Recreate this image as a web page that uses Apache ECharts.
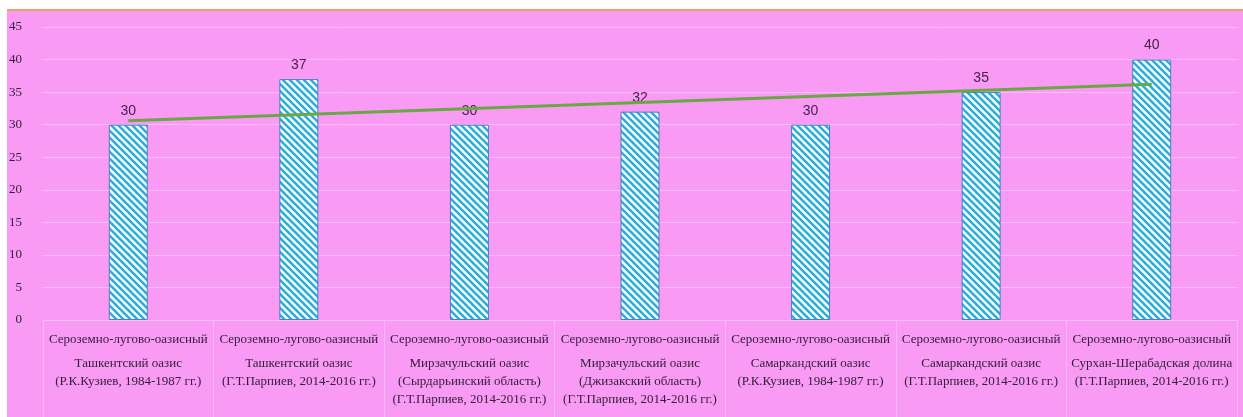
<!DOCTYPE html>
<html>
<head>
<meta charset="utf-8">
<script src="https://cdn.jsdelivr.net/npm/echarts@6/dist/echarts.min.js"></script>
<style>
  html, body { margin: 0; padding: 0; background: #ffffff; }
  #chart { width: 1243px; height: 417px; }
</style>
</head>
<body>
<div id="chart"></div>
<script>
// Soil type shared by all columns (first label row)
const soilType = 'Сероземно-лугово-оазисный';

// Region / source lines under each column
const regions = [
  ['Ташкентский оазис', '(Р.К.Кузиев, 1984-1987 гг.)'],
  ['Ташкентский оазис', '(Г.Т.Парпиев, 2014-2016 гг.)'],
  ['Мирзачульский оазис', '(Сырдарьинский область)', '(Г.Т.Парпиев, 2014-2016 гг.)'],
  ['Мирзачульский оазис', '(Джизакский область)', '(Г.Т.Парпиев, 2014-2016 гг.)'],
  ['Самаркандский оазис', '(Р.К.Кузиев, 1984-1987 гг.)'],
  ['Самаркандский оазис', '(Г.Т.Парпиев, 2014-2016 гг.)'],
  ['Сурхан-Шерабадская долина', '(Г.Т.Парпиев, 2014-2016 гг.)']
];

// Column values
const values = [30, 37, 30, 32, 30, 35, 40];

// Linear trend line: start and end values, empty in between
const trend = [30.6, '-', '-', '-', '-', '-', 36.2];

// Y axis ticks
const yMin = 0, yMax = 45, yStep = 5;

const categories = regions.map((r, i) => 'c' + i);

// Diagonal hatch pattern (cyan / white)
function hatch() {
  const p = 7;
  const c = document.createElement('canvas');
  c.width = p; c.height = p;
  const g = c.getContext('2d');
  g.fillStyle = '#ffffff';
  g.fillRect(0, 0, p, p);
  g.strokeStyle = '#2aafd8';
  g.lineWidth = 2.6;
  for (const off of [-p, 0, p]) {
    g.beginPath();
    g.moveTo(off - 1, -1);
    g.lineTo(off + p + 1, p + 1);
    g.stroke();
  }
  return c;
}

const chart = echarts.init(document.getElementById('chart'), null, { renderer: 'canvas' });

const serif = '"Liberation Serif", "DejaVu Serif", serif';
const textColor = '#33213a';

chart.setOption({
  backgroundColor: '#ffffff',
  animation: false,
  graphic: [
    { type: 'rect', z: -10, shape: { x: 7, y: 9, width: 1236, height: 408 }, style: { fill: '#f99bf4' } },
    { type: 'rect', z: -9, shape: { x: 7, y: 9, width: 1236, height: 2 }, style: { fill: '#e6a467' } }
  ],
  grid: { left: 43, right: 6, top: 27, bottom: 97, containLabel: false },
  xAxis: {
    type: 'category',
    data: categories,
    axisLine: { show: true, lineStyle: { color: '#fcc0f8', width: 1 } },
    axisTick: { show: true, alignWithLabel: false, length: 97, lineStyle: { color: '#fbb6f6', width: 1 } },
    axisLabel: {
      interval: 0,
      margin: 5,
      fontFamily: serif,
      fontSize: 13,
      color: textColor,
      formatter: function (v, i) {
        const lines = regions[i].map(s => '{b|' + s + '}').join('\n');
        return '{a|' + soilType + '}\n' + lines;
      },
      rich: {
        a: { fontFamily: serif, fontSize: 13, color: textColor, lineHeight: 30 },
        b: { fontFamily: serif, fontSize: 13, color: textColor, lineHeight: 18 }
      }
    }
  },
  yAxis: {
    type: 'value',
    min: yMin, max: yMax, interval: yStep,
    axisLine: { show: false },
    axisTick: { show: false },
    splitLine: { lineStyle: { color: '#fcbcf8', width: 1 } },
    axisLabel: { margin: 21, fontFamily: serif, fontSize: 13, color: textColor }
  },
  series: [
    {
      type: 'bar',
      data: values,
      barWidth: 39,
      itemStyle: {
        color: { image: hatch(), repeat: 'repeat' },
        borderColor: '#4a80c4',
        borderWidth: 1
      },
      label: {
        show: true,
        position: 'top',
        distance: 7,
        fontFamily: '"Liberation Sans Narrow", "Liberation Sans", sans-serif',
        fontSize: 14,
        color: '#45234c'
      },
      z: 2
    },
    {
      type: 'line',
      data: trend,
      connectNulls: true,
      symbol: 'none',
      lineStyle: { color: '#6aa845', width: 3 },
      z: 3
    }
  ]
});
</script>
</body>
</html>
